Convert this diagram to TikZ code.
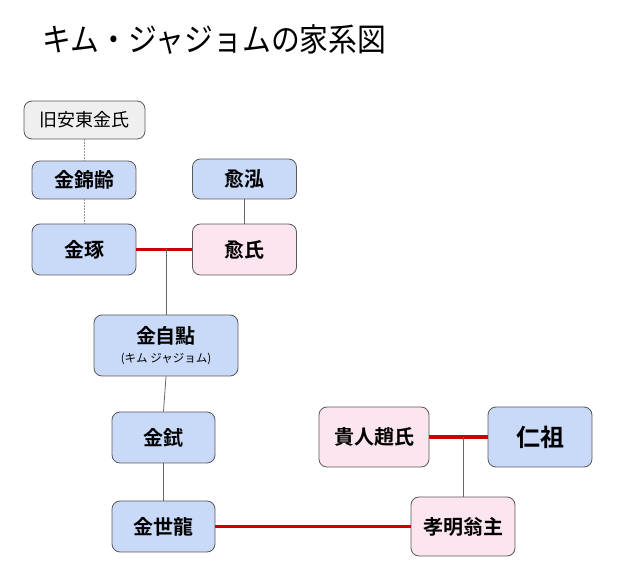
\documentclass[tikz,border=0pt]{standalone}
\usepackage{fontspec}
\newfontfamily\cjk{Noto Sans CJK JP}[BoldFont={Noto Sans CJK JP Bold}]
\newfontfamily\cjktitle{Noto Sans CJK JP}[FakeStretch=0.9]
\definecolor{bluefill}{HTML}{C9DAF8}
\definecolor{pinkfill}{HTML}{FCE5EE}
\definecolor{grayfill}{HTML}{EFEFEF}
\definecolor{boxdraw}{HTML}{595959}
\definecolor{redline}{HTML}{CC0000}
\definecolor{linegray}{HTML}{666666}
\begin{document}
\begin{tikzpicture}[x=1pt,y=-1pt,
  box/.style={draw=boxdraw, line width=0.8pt, rounded corners=8pt, inner sep=0pt, align=center, font=\cjk\bfseries\fontsize{20}{24}\selectfont},
  bluebox/.style={box, fill=bluefill},
  pinkbox/.style={box, fill=pinkfill},
  graybox/.style={box, fill=grayfill, font=\cjk\fontsize{18}{22}\selectfont},
  marriage/.style={draw=redline, line width=3.5pt},
  descent/.style={draw=linegray, line width=0.8pt},
  dotline/.style={draw=linegray!70, line width=0.6pt, dash pattern=on 1.5pt off 1.5pt}]
\useasboundingbox (0,0) rectangle (625,588);
\node[anchor=west, inner sep=0pt, font=\cjktitle\fontsize{32}{36}\selectfont] (title) at (42,40) {キム・ジャジョムの家系図};

\node[graybox, minimum width=121pt, minimum height=38pt] (andong) at (84.5,120) {旧安東金氏};
\node[bluebox, minimum width=104pt, minimum height=38pt] (geumnyeong) at (84,180) {金錦齢};
\node[bluebox, minimum width=104pt, minimum height=40pt] (yuhong) at (244.5,179) {愈泓};
\node[bluebox, minimum width=104pt, minimum height=51pt] (tak) at (84,249.5) {金琢};
\node[pinkbox, minimum width=104pt, minimum height=51pt] (yussi) at (244.5,249.5) {愈氏};
\node[bluebox, minimum width=144pt, minimum height=61pt] (jajeom) at (166,345.5) {金自點\\[-5pt]{\fontsize{11.5}{13}\selectfont\mdseries (キム ジャジョム)}};
\node[bluebox, minimum width=103pt, minimum height=51pt] (sik) at (163.5,437.5) {金鉽};
\node[bluebox, minimum width=103pt, minimum height=51pt] (seryong) at (163.5,526.5) {金世龍};
\node[pinkbox, minimum width=110pt, minimum height=60pt] (jo) at (374,437) {貴人趙氏};
\node[bluebox, minimum width=104pt, minimum height=60pt, font=\cjk\bfseries\fontsize{24}{28}\selectfont] (injo) at (540,437) {仁祖};
\node[pinkbox, minimum width=104pt, minimum height=59pt] (hyomyeong) at (463,526.5) {孝明翁主};

\draw[dotline] (andong.south -| geumnyeong.north) -- (geumnyeong.north);
\draw[dotline] (geumnyeong.south) -- (tak.north);
\draw[descent] (yuhong.south) -- (yussi.north);

\draw[marriage] (tak.east) -- (yussi.west);
\draw[descent] (jajeom.north |- tak.east) -- (jajeom.north);
\draw[descent] (jajeom.south) -- (sik.north);
\draw[descent] (sik.south) -- (seryong.north);

\draw[marriage] (jo.east) -- (injo.west);
\draw[descent] (hyomyeong.north |- jo.east) -- (hyomyeong.north);
\draw[marriage] (seryong.east) -- (hyomyeong.west);
\end{tikzpicture}
\end{document}
